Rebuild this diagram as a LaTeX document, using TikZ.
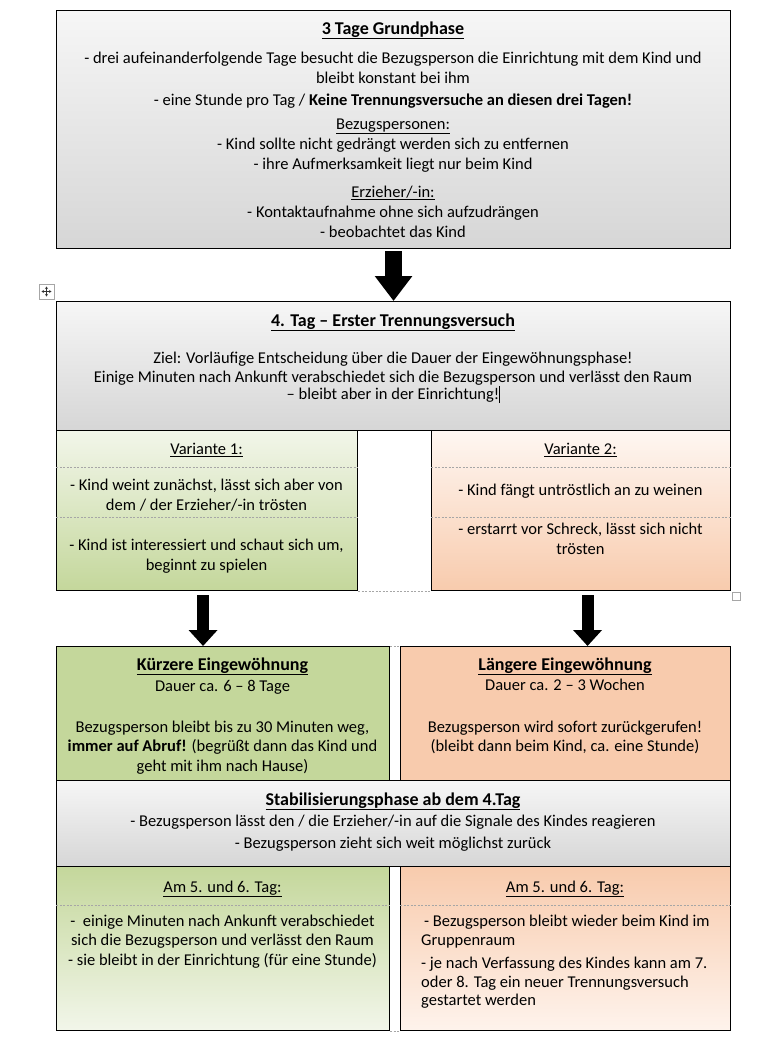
\documentclass[tikz,border=0pt]{standalone}
\usepackage{fontspec}
\setmainfont{Carlito}
\usetikzlibrary{arrows.meta}

\definecolor{grayTop}{HTML}{F6F6F6}
\definecolor{grayBot}{HTML}{D6D6D6}
\definecolor{olive}{HTML}{C4D79B}
\definecolor{oliveLight}{HTML}{F2F6EA}
\definecolor{peach}{HTML}{F8CBAD}
\definecolor{peachLight}{HTML}{FEF3EC}

\newcommand{\boxtitle}[1]{{\fontsize{18}{20}\selectfont\bfseries\underline{#1}}}
\newcommand{\subhead}[1]{\underline{#1}}

\begin{document}
\begin{tikzpicture}[x=1pt,y=-1pt,
  box/.style={draw=black, line width=1.1pt, inner sep=0pt, anchor=north west},
  graybox/.style={box, top color=grayTop, bottom color=grayBot},
  txt/.style={anchor=north, align=center, inner sep=0pt, font=\fontsize{16.5}{20}\selectfont},
  sep/.style={draw=gray!70, line width=0.6pt, dash pattern=on 2pt off 1.5pt},
  bigarrow/.style={line width=17pt, -{Triangle[length=25pt, width=36pt]}},
  smallarrow/.style={line width=12pt, -{Triangle[length=16pt, width=28pt]}}]
\useasboundingbox (0,0) rectangle (780,1041);

% boxes
\node[graybox, minimum width=674pt, minimum height=238pt] (grund) at (56,10) {};
\node[graybox, minimum width=674pt, minimum height=129pt] (tag4) at (56,301) {};
\node[box, top color=oliveLight, bottom color=olive, minimum width=301pt, minimum height=160pt] (var1) at (56,430) {};
\node[box, top color=peachLight!70!white, bottom color=peach, minimum width=299pt, minimum height=160pt] (var2) at (431,430) {};
\node[box, fill=olive, minimum width=333pt, minimum height=134pt] (kurz) at (56,646) {};
\node[box, fill=peach, minimum width=330pt, minimum height=134pt] (lang) at (400,646) {};
\node[graybox, minimum width=674pt, minimum height=86pt] (stab) at (56,780) {};
\node[box, top color=olive, bottom color=oliveLight, minimum width=333pt, minimum height=164pt] (am1) at (56,866) {};
\node[box, top color=peach, bottom color=peachLight, minimum width=330pt, minimum height=164pt] (am2) at (400,866) {};

% separators
\draw[sep] ([yshift=-37pt]var1.north west) -- ([yshift=-37pt]var1.north east);
\draw[sep] ([yshift=-87pt]var1.north west) -- ([yshift=-87pt]var1.north east);
\draw[sep] ([yshift=-37pt]var2.north west) -- ([yshift=-37pt]var2.north east);
\draw[sep] ([yshift=-87pt]var2.north west) -- ([yshift=-87pt]var2.north east);
\draw[sep] ([yshift=-39pt]am1.north west) -- ([yshift=-39pt]am1.north east);
\draw[sep] ([yshift=-39pt]am2.north west) -- ([yshift=-39pt]am2.north east);
\draw[sep] (var1.south east) -- (var2.south west);
\draw[sep] (kurz.north east) -- (lang.north west);
\draw[sep] (am1.south east) -- (am2.south west);

% arrows
\draw[bigarrow] ([yshift=-2pt]grund.south) -- (tag4.north);
\draw[smallarrow] ([xshift=-4pt,yshift=-4pt]var1.south) -- ([xshift=-4pt]var1.south |- kurz.north);
\draw[smallarrow] ([xshift=6.5pt,yshift=-4pt]var2.south) -- ([xshift=6.5pt]var2.south |- lang.north);

% word handles
\node[draw=gray!70, line width=0.6pt, minimum size=15pt, inner sep=0pt] (move) at (46.5,291.5) {};
\draw[gray!40!black, line width=0.5pt, {Stealth[length=2.5pt,width=3pt]}-{Stealth[length=2.5pt,width=3pt]}]
  ([xshift=-5pt]move.center) -- ([xshift=5pt]move.center);
\draw[gray!40!black, line width=0.5pt, {Stealth[length=2.5pt,width=3pt]}-{Stealth[length=2.5pt,width=3pt]}]
  ([yshift=-5pt]move.center) -- ([yshift=5pt]move.center);
\node[draw=gray!70, line width=0.6pt, fill=white, minimum size=8pt, inner sep=0pt] (handle) at (736.5,596) {};

% texts
\node[txt] (grundtxt) at (393,20) {\strut\boxtitle{3 Tage Grundphase}\\[9pt]
  - drei aufeinanderfolgende Tage besucht die Bezugsperson die Einrichtung mit dem Kind und\\
  bleibt konstant bei ihm\\[2pt]
  - eine Stunde pro Tag / \textbf{Keine Trennungsversuche an diesen drei Tagen!}\\[4pt]
  \subhead{Bezugspersonen:}\\
  - Kind sollte nicht gedrängt werden sich zu entfernen\\
  - ihre Aufmerksamkeit liegt nur beim Kind\\[8pt]
  \subhead{Erzieher/-in:}\\
  - Kontaktaufnahme ohne sich aufzudrängen\\
  - beobachtet das Kind};
\node[txt] (tag4txt) at (393,312) {\strut\boxtitle{4. Tag – Erster Trennungsversuch}\\[17pt]
  Ziel: Vorläufige Entscheidung über die Dauer der Eingewöhnungsphase!\\[-1pt]
  Einige Minuten nach Ankunft verabschiedet sich die Bezugsperson und verlässt den Raum\\[-3pt]
  – bleibt aber in der Einrichtung!\rlap{\rule[-4pt]{0.7pt}{17pt}}};
\node[txt] (var1txt) at (206.5,440) {\strut\subhead{Variante 1:}\\[16pt]
  - Kind weint zunächst, lässt sich aber von\\
  dem / der Erzieher/-in trösten\\[20pt]
  - Kind ist interessiert und schaut sich um,\\
  beginnt zu spielen};
\node[txt] (var2txt) at (580.5,440) {\strut\subhead{Variante 2:}\\[21pt]
  - Kind fängt untröstlich an zu weinen\\[19pt]
  - erstarrt vor Schreck, lässt sich nicht\\
  trösten};
\node[txt] (kurztxt) at (222.5,656) {\strut\boxtitle{Kürzere Eingewöhnung}\\[1pt]
  Dauer ca. 6 – 8 Tage\\[21pt]
  Bezugsperson bleibt bis zu 30 Minuten weg,\\[-1pt]
  \textbf{immer auf Abruf!} (begrüßt dann das Kind und\\
  geht mit ihm nach Hause)};
\node[txt] (langtxt) at (565,656) {\strut\boxtitle{Längere Eingewöhnung}\\
  Dauer ca. 2 – 3 Wochen\\[22pt]
  Bezugsperson wird sofort zurückgerufen!\\[-1pt]
  (bleibt dann beim Kind, ca. eine Stunde)};
\node[txt] (stabtxt) at (393,791) {\strut\boxtitle{Stabilisierungsphase ab dem 4.Tag}\\[1pt]
  - Bezugsperson lässt den / die Erzieher/-in auf die Signale des Kindes reagieren\\[2pt]
  - Bezugsperson zieht sich weit möglichst zurück};
\node[txt] (am1txt) at (222.5,878) {\strut\subhead{Am 5. und 6. Tag:}\\[14pt]
  -\ \ einige Minuten nach Ankunft verabschiedet\\[-1pt]
  sich die Bezugsperson und verlässt den Raum\\
  - sie bleibt in der Einrichtung (für eine Stunde)};
\node[txt] (am2title) at (565,878) {\strut\subhead{Am 5. und 6. Tag:}};
\node[txt, anchor=north west, align=left] (am2txt) at (421,912) {\strut\hspace*{3pt}- Bezugsperson bleibt wieder beim Kind im\\[-1pt]
  Gruppenraum\\[3pt]
  - je nach Verfassung des Kindes kann am 7.\\[-1pt]
  oder 8. Tag ein neuer Trennungsversuch\\[-2pt]
  gestartet werden};
\end{tikzpicture}
\end{document}
